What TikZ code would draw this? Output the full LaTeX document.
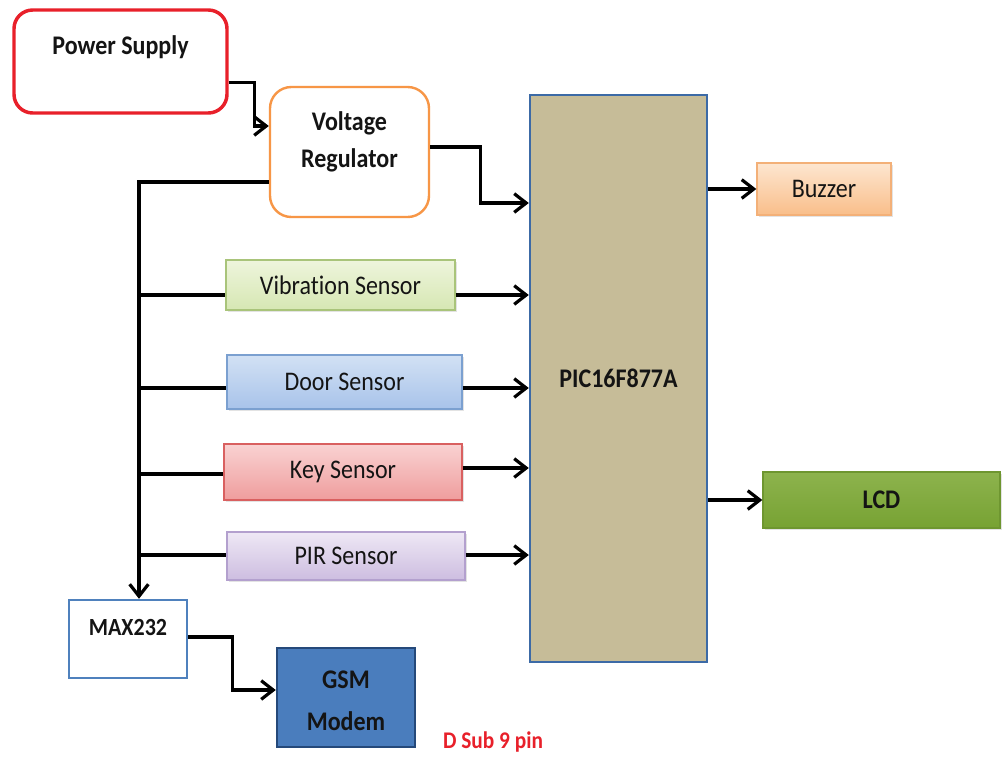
\documentclass[tikz,border=0pt]{standalone}
\usepackage{graphicx}
\usepackage{fontspec}
\setmainfont{Carlito}[Ligatures={NoCommon,NoRare,NoContextual}]
\usetikzlibrary{arrows.meta,calc,shadows}
\newcommand\stx[1]{\scalebox{1}[1.12]{#1}}
\definecolor{psred}{HTML}{E8202A}
\definecolor{vrorange}{HTML}{F79646}
\definecolor{vibtop}{HTML}{EEF5DC}
\definecolor{vibbot}{HTML}{D6E7B3}
\definecolor{vibbd}{HTML}{A9C47A}
\definecolor{doortop}{HTML}{D2E1F4}
\definecolor{doorbot}{HTML}{A8C3EA}
\definecolor{doorbd}{HTML}{7BA0D0}
\definecolor{keytop}{HTML}{F9D2D2}
\definecolor{keybot}{HTML}{EF9D9D}
\definecolor{keybd}{HTML}{D96060}
\definecolor{pirtop}{HTML}{EEE8F5}
\definecolor{pirbot}{HTML}{CDBDE0}
\definecolor{pirbd}{HTML}{B3A0CE}
\definecolor{buztop}{HTML}{FDE6D0}
\definecolor{buzbot}{HTML}{F9BE8A}
\definecolor{buzbd}{HTML}{F3B078}
\definecolor{lcdtop}{HTML}{8DB34D}
\definecolor{lcdbot}{HTML}{77A233}
\definecolor{lcdbd}{HTML}{6E9630}
\definecolor{gsmfill}{HTML}{4A7DBD}
\definecolor{gsmbd}{HTML}{25497A}
\definecolor{picfill}{HTML}{C6BC98}
\definecolor{picbd}{HTML}{3C6AA6}
\definecolor{maxbd}{HTML}{4F81BD}
\tikzset{
  conn/.style={line width=2.4pt, draw=black},
  arr/.style={conn, -{Straight Barb[length=9pt,width=14pt]}},
  blk/.style={font=\fontsize{18}{22}\selectfont, inner sep=0pt, align=center, text=black!92},
  bblk/.style={blk, font=\fontsize{18}{22}\selectfont\bfseries},
  shad/.style={drop shadow={shadow xshift=1.5pt,shadow yshift=-1.5pt,opacity=0.22}},
  sensor/.style={blk, shad, draw, line width=1pt},
}
\begin{document}
\begin{tikzpicture}[x=0.75pt,y=-0.75pt]
\useasboundingbox[fill=white] (0,0) rectangle (1003,758);

% blocks
\node[bblk, draw=psred, line width=2.6pt, rounded corners=14pt, minimum width=159.75pt, minimum height=77.25pt] (ps) at (120.5,61.5) {\raisebox{5pt}[0pt][0pt]{\stx{Power Supply}}};
\node[bblk, draw=vrorange, line width=1.8pt, rounded corners=16pt, minimum width=119.25pt, minimum height=97.5pt] (vr) at (349.5,152) {\raisebox{2.5pt}[0pt][0pt]{\stx{\begin{tabular}{c}Voltage\\[3pt]Regulator\end{tabular}}}};
\node[bblk, draw=picbd, line width=1.8pt, fill=picfill, minimum width=132.75pt, minimum height=425.25pt] (pic) at (618.5,378.5) {\stx{PIC16F877A}};

\node[sensor, draw=vibbd, top color=vibtop, bottom color=vibbot, minimum width=171.75pt, minimum height=37.5pt] (vib) at (340.5,285) {\stx{Vibration Sensor}};
\node[sensor, draw=doorbd, top color=doortop, bottom color=doorbot, minimum width=176.25pt, minimum height=40.5pt] (door) at (344.5,382) {\stx{Door Sensor}};
\node[sensor, draw=keybd, top color=keytop, bottom color=keybot, minimum width=178.5pt, minimum height=42pt] (key) at (343,472) {\stx{Key Sensor}};
\node[sensor, draw=pirbd, top color=pirtop, bottom color=pirbot, minimum width=178.5pt, minimum height=36pt] (pir) at (346,556) {\stx{PIR Sensor}};

\node[sensor, draw=buzbd, top color=buztop, bottom color=buzbot, minimum width=100.5pt, minimum height=39pt] (buz) at (824,189) {\stx{Buzzer}};
\node[bblk, shad, draw=lcdbd, line width=1pt, top color=lcdtop, bottom color=lcdbot, minimum width=177.75pt, minimum height=42pt] (lcd) at (881.5,500) {\stx{LCD}};

\node[bblk, font=\fontsize{16.5}{20}\selectfont\bfseries, draw=maxbd, line width=1.8pt, fill=white, minimum width=88.5pt, minimum height=58.5pt] (max) at (128,639) {\raisebox{2.5pt}[0pt][0pt]{\stx{MAX232}}};
\node[bblk, draw=gsmbd, line width=1.8pt, fill=gsmfill, minimum width=103.5pt, minimum height=74.25pt] (gsm) at (346,697.5) {\raisebox{-9pt}[0pt][0pt]{\stx{\begin{tabular}{c}GSM\\[6pt]Modem\end{tabular}}}};

\node[bblk, font=\fontsize{16}{20}\selectfont\bfseries, text=psred] (dsub) at (493,742) {\stx{D Sub 9 pin}};

% bus coordinates
\coordinate (bv) at (139,295);
\coordinate (bd) at (139,388);
\coordinate (bk) at (139,474);
\coordinate (bp) at (139,555);

% connectors
\draw[arr] ($(ps.south east)+(0,-32)$) -- ++(26,0) |- ($(vr.west)+(0,-26)$);
\draw[arr] ($(vr.east)+(0,-5)$) -- ++(50,0) |- ($(pic.west)+(0,-175.5)$);
\draw[arr] ($(vr.west)+(0,30)$) -| ($(max.north)+(11,0)$);

\draw[conn] (bv) -- (bv -| vib.west);
\draw[conn] (bd) -- (bd -| door.west);
\draw[conn] (bk) -- (bk -| key.west);
\draw[conn] (bp) -- (bp -| pir.west);

\draw[arr] (vib.east |- bv) -- (pic.west |- bv);
\draw[arr] (door.east |- bd) -- (pic.west |- bd);
\draw[arr] ($(key.east)+(0,-4)$) -- (pic.west |- {$(key.east)+(0,-4)$});
\draw[arr] (pir.east |- bp) -- (pic.west |- bp);

\draw[arr] (pic.east |- buz.west) -- (buz.west);
\draw[arr] (pic.east |- lcd.west) -- (lcd.west);

\draw[arr] ($(max.east)+(0,-2)$) -- ++(44,0) |- ($(gsm.west)+(0,-7.5)$);
\end{tikzpicture}
\end{document}
